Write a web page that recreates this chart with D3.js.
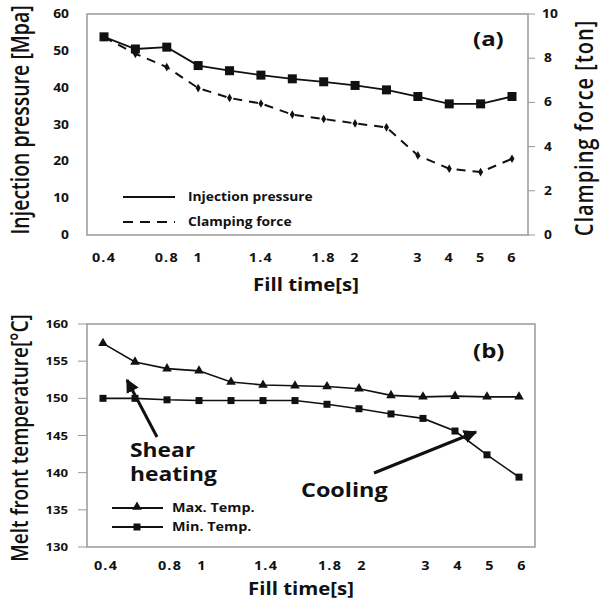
<!DOCTYPE html>
<html>
<head>
<meta charset="utf-8">
<script src="https://cdn.jsdelivr.net/npm/d3@7"></script>
<style>
  body { margin: 0; background: #fff; }
  text { font-family: "Open Sans", "Noto Sans", sans-serif; fill: #111; }
</style>
</head>
<body>
<script>
const width = 612;
const height = 601;

// fill time categories (evenly spaced on the chart)
const fillTimes = ["0.4", "0.6", "0.8", "1", "1.2", "1.4", "1.6", "1.8", "2", "2.5", "3", "4", "5", "6"];
const xTickLabels = ["0.4", "", "0.8", "1", "", "1.4", "", "1.8", "2", "", "3", "4", "5", "6"];

// (a)
const injectionPressure = [53.8, 50.5, 51.0, 46.0, 44.6, 43.4, 42.4, 41.6, 40.6, 39.4, 37.6, 35.6, 35.6, 37.6];
const clampingForce = [8.95, 8.2, 7.6, 6.65, 6.2, 5.95, 5.45, 5.25, 5.05, 4.87, 3.6, 3.0, 2.85, 3.45];
const pressureTicks = [0, 10, 20, 30, 40, 50, 60];
const forceTicks = [0, 2, 4, 6, 8, 10];

// (b)
const maxTemp = [157.4, 154.9, 154.0, 153.7, 152.2, 151.8, 151.7, 151.6, 151.3, 150.4, 150.2, 150.3, 150.2, 150.2];
const minTemp = [150.0, 150.0, 149.8, 149.7, 149.7, 149.7, 149.7, 149.2, 148.6, 147.9, 147.3, 145.6, 142.4, 139.4];
const tempTicks = [130, 135, 140, 145, 150, 155, 160];

// the source figure is a bit stretched sideways
const sx = 1.2;

const svg = d3.select("body").append("svg")
    .attr("width", width)
    .attr("height", height);

svg.append("defs").append("marker")
    .attr("id", "head")
    .attr("viewBox", "0 0 10 10")
    .attr("refX", 9).attr("refY", 5)
    .attr("markerWidth", 4.5).attr("markerHeight", 4.5)
    .attr("markerUnits", "strokeWidth")
    .attr("orient", "auto")
    .append("path")
    .attr("d", "M0,0L10,5L0,10Z")
    .attr("fill", "#111");

function label(g, x, y, str, size, anchor) {
    return g.append("text")
        .attr("transform", "translate(" + x + "," + y + ") scale(" + sx + ",1)")
        .attr("text-anchor", anchor || "start")
        .attr("font-size", size)
        .attr("font-weight", "bold")
        .text(str);
}

function vTitle(g, x, y, str, size) {
    return g.append("text")
        .attr("transform", "translate(" + x + "," + y + ") scale(1.25,1) rotate(-90)")
        .attr("text-anchor", "middle")
        .attr("font-size", size)
        .attr("font-weight", 600)
        .text(str);
}

function xLabels(g, x, dx, y, titleX, titleY) {
    fillTimes.forEach(function (d, i) {
        if (xTickLabels[i])
            label(g, x(d) + dx, y, xTickLabels[i], 12, "middle").attr("letter-spacing", 1);
    });
    label(g, titleX, titleY, "Fill time[s]", 17, "middle");
}

function frame(g, x0, x1, y0, y1) {
    g.append("rect")
        .attr("x", x0).attr("y", y0)
        .attr("width", x1 - x0).attr("height", y1 - y0)
        .attr("fill", "none")
        .attr("stroke", "#999")
        .attr("stroke-width", 1.5);
}

// ---------- chart (a) ----------
const a = svg.append("g");
const xa = d3.scalePoint().domain(fillTimes).range([104, 512]);
const ya = d3.scaleLinear().domain([0, 60]).range([235, 14]);
const yaR = d3.scaleLinear().domain([0, 10]).range([235, 14]);

frame(a, 87, 528, 14, 235);

pressureTicks.forEach(d => label(a, 69, ya(d) + 4, d, 11.5, "end"));

forceTicks.forEach(function (d) {
    a.append("line")
        .attr("x1", 528).attr("x2", 535)
        .attr("y1", yaR(d)).attr("y2", yaR(d))
        .attr("stroke", "#999");
    label(a, d == 10 ? 542 : 544, yaR(d) + 4, d, 11.5);
});

vTitle(a, 29, 120, "Injection pressure [Mpa]", 19.5);
vTitle(a, 593, 128, "Clamping force [ton]", 20).attr("letter-spacing", 1);

const lineP = d3.line().x((d, i) => xa(fillTimes[i])).y(d => ya(d));
const lineF = d3.line().x((d, i) => xa(fillTimes[i])).y(d => yaR(d));

a.append("path")
    .attr("d", lineF(clampingForce))
    .attr("fill", "none")
    .attr("stroke", "#111")
    .attr("stroke-width", 2)
    .attr("stroke-dasharray", "9,7");
a.append("g").selectAll("path")
    .data(clampingForce)
    .enter().append("path")
    .attr("transform", (d, i) => "translate(" + xa(fillTimes[i]) + "," + yaR(d) + ")")
    .attr("d", d3.symbol(d3.symbolDiamond, 22))
    .attr("fill", "#111");

a.append("path")
    .attr("d", lineP(injectionPressure))
    .attr("fill", "none")
    .attr("stroke", "#111")
    .attr("stroke-width", 1.8);
a.append("g").selectAll("rect")
    .data(injectionPressure)
    .enter().append("rect")
    .attr("x", (d, i) => xa(fillTimes[i]) - 4.5)
    .attr("y", d => ya(d) - 4.5)
    .attr("width", 9).attr("height", 9)
    .attr("fill", "#111");

// legend (a)
a.append("line")
    .attr("x1", 123).attr("x2", 175).attr("y1", 197).attr("y2", 197)
    .attr("stroke", "#111").attr("stroke-width", 1.8);
a.append("line")
    .attr("x1", 123).attr("x2", 175).attr("y1", 222).attr("y2", 222)
    .attr("stroke", "#111").attr("stroke-width", 2)
    .attr("stroke-dasharray", "10,7");
label(a, 188, 201, "Injection pressure", 11.5);
label(a, 188, 226, "Clamping force", 11.5);

label(a, 473, 46, "(a)", 20);

xLabels(a, xa, 0, 262, 306, 291);

// ---------- chart (b) ----------
const b = svg.append("g");
const xb = d3.scalePoint().domain(fillTimes).range([103, 519]);
const yb = d3.scaleLinear().domain([130, 160]).range([547, 324]);

frame(b, 87, 535, 324, 547);

tempTicks.forEach(function (d) {
    b.append("line")
        .attr("x1", 78).attr("x2", 87)
        .attr("y1", yb(d)).attr("y2", yb(d))
        .attr("stroke", "#999");
    label(b, 68, yb(d) + 4, d, 11, "end");
});

vTitle(b, 28, 438, "Melt front temperature[°C]", 19);

const lineT = d3.line().x((d, i) => xb(fillTimes[i])).y(d => yb(d));

b.append("path")
    .attr("d", lineT(maxTemp))
    .attr("fill", "none").attr("stroke", "#111").attr("stroke-width", 1.6);
b.append("path")
    .attr("d", lineT(minTemp))
    .attr("fill", "none").attr("stroke", "#111").attr("stroke-width", 1.6);

b.append("g").selectAll("path")
    .data(maxTemp)
    .enter().append("path")
    .attr("transform", (d, i) => "translate(" + xb(fillTimes[i]) + "," + yb(d) + ")")
    .attr("d", d3.symbol(d3.symbolTriangle, 40))
    .attr("fill", "#111");
b.append("g").selectAll("rect")
    .data(minTemp)
    .enter().append("rect")
    .attr("x", (d, i) => xb(fillTimes[i]) - 3.5)
    .attr("y", d => yb(d) - 3.5)
    .attr("width", 7).attr("height", 7)
    .attr("fill", "#111");

// legend (b)
b.append("line")
    .attr("x1", 112).attr("x2", 163).attr("y1", 508).attr("y2", 508)
    .attr("stroke", "#111").attr("stroke-width", 1.8);
b.append("path")
    .attr("transform", "translate(137,507)")
    .attr("d", d3.symbol(d3.symbolTriangle, 40))
    .attr("fill", "#111");
b.append("line")
    .attr("x1", 112).attr("x2", 163).attr("y1", 527).attr("y2", 527)
    .attr("stroke", "#111").attr("stroke-width", 1.8);
b.append("rect")
    .attr("x", 133.5).attr("y", 523.5).attr("width", 7).attr("height", 7)
    .attr("fill", "#111");
label(b, 172, 512, "Max. Temp.", 12);
label(b, 172, 531, "Min. Temp.", 12);

label(b, 473, 358, "(b)", 20);

// annotations
label(b, 130, 457, "Shear", 19);
label(b, 130, 481, "heating", 19);
b.append("line")
    .attr("x1", 157).attr("y1", 437).attr("x2", 127).attr("y2", 380)
    .attr("stroke", "#111").attr("stroke-width", 3)
    .attr("marker-end", "url(#head)");

label(b, 301, 497, "Cooling", 19.5);
b.append("line")
    .attr("x1", 374).attr("y1", 473).attr("x2", 476).attr("y2", 432)
    .attr("stroke", "#111").attr("stroke-width", 3)
    .attr("marker-end", "url(#head)");

xLabels(b, xb, 3, 570, 301, 595);
</script>
</body>
</html>
